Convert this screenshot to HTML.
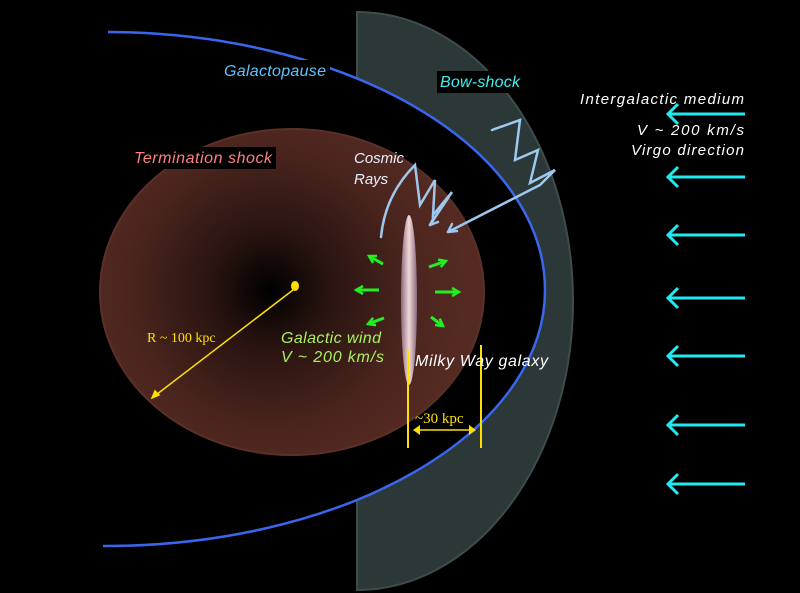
<!DOCTYPE html>
<html><head><style>
body{margin:0;background:#000;}
svg{display:block}
text{font-family:"Liberation Sans",sans-serif;font-style:italic;}
</style></head><body>
<svg width="800" height="593" viewBox="0 0 800 593">
<defs>
<radialGradient id="tg" cx="270" cy="290" r="200" gradientUnits="userSpaceOnUse">
<stop offset="0" stop-color="#000"/>
<stop offset="0.3" stop-color="#2a1410"/>
<stop offset="0.7" stop-color="#4a251e"/>
<stop offset="1" stop-color="#552a22"/>
</radialGradient>
<linearGradient id="mw" x1="0" y1="0" x2="1" y2="0">
<stop offset="0" stop-color="#8a6a80"/><stop offset="0.5" stop-color="#f2d8d8"/><stop offset="1" stop-color="#8a6a80"/>
</linearGradient>
<marker id="ga" markerWidth="10" markerHeight="10" refX="8" refY="5" orient="auto" markerUnits="userSpaceOnUse"><path d="M1,1 L8,5 L1,9" fill="none" stroke="#22ee22" stroke-width="2.5"/></marker>
</defs>
<rect width="800" height="593" fill="#000"/>
<path d="M357,12 A216,289 0 0 1 357,590 Z" fill="#2c3837" stroke="#3d4d4c" stroke-width="2"/>
<path d="M108,32 A440,258 0 0 1 545,290 A440,256 0 0 1 103,546 Z" fill="#000"/>
<path d="M108,32 A440,258 0 0 1 545,290 A440,256 0 0 1 103,546" fill="none" stroke="#3a66ee" stroke-width="2.5"/>
<ellipse cx="292" cy="292" rx="192" ry="163" fill="url(#tg)" stroke="#5a3028" stroke-width="2"/>
<ellipse cx="409" cy="300" rx="8" ry="85" fill="url(#mw)"/>
<g stroke="#22ee22" stroke-width="3" fill="none" marker-end="url(#ga)">
<line x1="379" y1="290" x2="356" y2="290"/>
<line x1="435" y1="292" x2="459" y2="292"/>
<line x1="383" y1="264" x2="369" y2="256"/>
<line x1="429" y1="267" x2="446" y2="261"/>
<line x1="384" y1="318" x2="368" y2="324"/>
<line x1="431" y1="317" x2="443" y2="326"/>
</g>
<g stroke="#9ec8ee" stroke-width="2.5" fill="none" stroke-linecap="round">
<path d="M381,237 Q385,195 415,165 L420,205 L435,180 L433,215 L452,192 L430,225"/>
<path d="M492,130 L520,120 L515,160 L538,150 L530,183 L555,170 L540,185 L448,232"/>
<path d="M430,225 l4,-8 M430,225 l8,-3 M448,232 l4,-8 M448,232 l9,-1"/>
</g>
<g stroke="#ffe000" stroke-width="1.5" fill="#ffe000">
<ellipse cx="295" cy="286" rx="4" ry="5" stroke="none"/>
<line x1="293" y1="290" x2="152" y2="398"/>
<path d="M152,398 l3,-7 l4,4 z"/>
<line x1="408" y1="350" x2="408" y2="448" stroke-width="2"/>
<line x1="481" y1="345" x2="481" y2="448" stroke-width="2"/>
<line x1="414" y1="430" x2="475" y2="430"/>
<path d="M413,430 l7,-5 v10 z M476,430 l-7,-5 v10 z" stroke="none"/>
</g>
<g stroke="#22e8f0" stroke-width="3" fill="none">
<path d="M745,114 H668 M678,104 L668,114 L678,124"/>
<path d="M745,177 H668 M678,167 L668,177 L678,187"/>
<path d="M745,235 H668 M678,225 L668,235 L678,245"/>
<path d="M745,298 H668 M678,288 L668,298 L678,308"/>
<path d="M745,356 H668 M678,346 L668,356 L678,366"/>
<path d="M745,425 H668 M678,415 L668,425 L678,435"/>
<path d="M745,484 H668 M678,474 L668,484 L678,494"/>
</g>
<rect x="220" y="60" width="110" height="22" fill="#000"/>
<text x="224" y="76" font-size="16" fill="#5ec4ff" textLength="102">Galactopause</text>
<rect x="437" y="71" width="86" height="22" fill="#000"/>
<text x="440" y="87" font-size="16" fill="#40f0f0" textLength="80">Bow-shock</text>
<rect x="131" y="147" width="145" height="22" fill="#000"/>
<text x="134" y="163" font-size="16" fill="#ff8080" textLength="138">Termination shock</text>
<text x="354" y="163" font-size="15" fill="#e8f0ff">Cosmic</text>
<text x="354" y="184" font-size="15" fill="#e8f0ff">Rays</text>
<text x="580" y="104" font-size="15" fill="#fff" textLength="164">Intergalactic medium</text>
<text x="637" y="135" font-size="15" fill="#fff" textLength="107">V ~ 200 km/s</text>
<text x="631" y="155" font-size="15" fill="#fff" textLength="113">Virgo direction</text>
<text x="147" y="342" font-size="14" fill="#ffe000" style="font-style:normal;font-family:'Liberation Serif',serif">R ~ 100 kpc</text>
<text x="281" y="343" font-size="16" fill="#a8f060" textLength="100">Galactic wind</text>
<text x="281" y="362" font-size="16" fill="#a8f060" textLength="103">V ~ 200 km/s</text>
<text x="415" y="366" font-size="16" fill="#fff" textLength="133">Milky Way galaxy</text>
<text x="415" y="423" font-size="15" fill="#ffe000" style="font-style:normal;font-family:'Liberation Serif',serif">~30 kpc</text>
</svg>
</body></html>
